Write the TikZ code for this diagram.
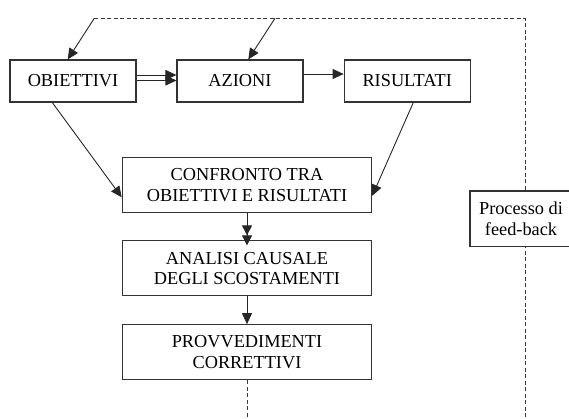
\documentclass[tikz,border=0pt]{standalone}
\usepackage{fontspec}
\setmainfont{Liberation Serif}
\usetikzlibrary{arrows.meta,calc}
\begin{document}
\begin{tikzpicture}[x=1pt,y=-1pt,
  box/.style={draw=black!80,line width=1.1pt,fill=white,align=center,inner sep=0pt,
    font=\fontsize{18.3}{20.7}\selectfont},
  small/.style={box,minimum width=126pt,minimum height=42pt},
  big/.style={box,minimum width=249.4pt,minimum height=55pt},
  conn/.style={draw=black!85,line width=0.9pt,-{Triangle[length=11pt,width=10pt]}},
  fbline/.style={draw=black!55!gray,line width=0.9pt,dash pattern=on 4pt off 2.5pt}]
\useasboundingbox (0,0) rectangle (569,419);
\clip (0,0) rectangle (569,419);
\coordinate (d1) at (94.3,18.3);
\coordinate (d2) at (275,18.3);
\coordinate (dc) at (525,18.3);
\coordinate (db) at (525,425);
\coordinate (pb) at (247,425);
\draw[fbline] (d1) -- (dc) -- (db);
\node[small] (obj) at (73,81) {OBIETTIVI};
\node[small] (az) at (240,81) {AZIONI};
\node[small] (ris) at (407.2,81) {RISULTATI};
\node[big] (conf) at (247,184.8) {CONFRONTO TRA\\OBIETTIVI E RISULTATI};
\node[big] (anal) at (247,268.4) {ANALISI CAUSALE\\DEGLI SCOSTAMENTI};
\node[big] (prov) at (247,352.2) {PROVVEDIMENTI\\CORRETTIVI};
\node[box,minimum width=102pt,minimum height=55.7pt] (fb) at (521,218.9) {Processo di\\feed-back};
\draw[fbline] (prov.south) -- (pb);
\draw[conn] (d1) -- ([xshift=-5.3pt]obj.north);
\draw[conn] (d2) -- ([xshift=8.3pt]az.north);
\draw[conn] ([yshift=6pt]obj.east) -- ([yshift=6pt]az.west);
\draw[conn] ([yshift=0.5pt]obj.east) -- ([yshift=0.5pt]az.west);
\draw[conn] ([yshift=7pt]az.east) -- ([yshift=7pt]ris.west);
\draw[conn] ([xshift=-20.7pt]obj.south) -- ([yshift=-12.5pt]conf.west);
\draw[conn] ([xshift=6.1pt]ris.south) -- ([yshift=-11pt]conf.east);
\draw[draw=black!85,line width=0.9pt,-{Triangle[length=10pt,width=10pt] Triangle[length=10pt,width=10pt,sep=-5pt]}] (conf.south) -- (anal.north);
\draw[conn] (anal.south) -- (prov.north);
\end{tikzpicture}
\end{document}
